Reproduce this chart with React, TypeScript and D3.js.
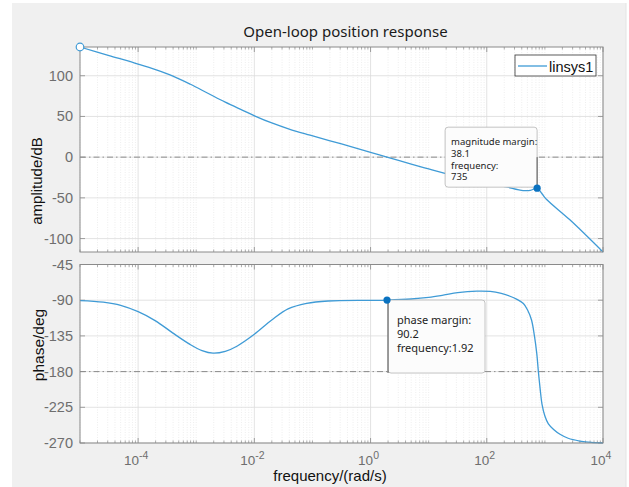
import React from 'react'
import * as d3 from 'd3'

const titleText = 'Open-loop position response'
const seriesName = 'linsys1'

// log10 of frequency (rad/s) and gain in dB
const magLogFreq = [-5, -4.5, -4, -3.7, -3.4, -3.1, -2.8, -2.5, -2.2, -1.988, -1.7, -1.4, -1.04, -0.5, 0, 0.283, 0.7, 1, 1.28, 1.5, 2, 2.34, 2.625, 2.75, 2.866, 2.95, 3.03, 3.43, 4]
const magDb = [135.3, 124.8, 114.3, 107.5, 99.5, 89.5, 78.5, 67.5, 57.5, 50.5, 42, 34.5, 27, 16.2, 6, 0, -8.5, -14.5, -20, -24, -31, -36.5, -41, -40.8, -38.1, -45, -52, -77, -116.5]

// log10 of frequency (rad/s) and phase in degrees
const phaseLogFreq = [-5, -4.6, -4.3, -4, -3.7, -3.4, -3.1, -2.9, -2.71, -2.5, -2.3, -2, -1.7, -1.42, -1.1, -0.73, 0, 0.283, 0.7, 1, 1.25, 1.5, 1.83, 2.06, 2.25, 2.4, 2.52, 2.63, 2.7, 2.77, 2.82, 2.86, 2.888, 2.92, 2.95, 3, 3.06, 3.15, 3.26, 3.4, 3.6, 3.8, 4]
const phaseDeg = [-90.5, -92.5, -96.5, -104.5, -116, -131.5, -146, -153.5, -156.8, -154.5, -148, -133, -115, -101, -94, -91, -90.2, -89.8, -88.5, -86.5, -83.7, -80.5, -78.6, -79, -81.5, -85, -89, -94.2, -102, -115, -135, -157, -180, -203, -221, -236, -246, -253, -259, -264, -267.5, -269.3, -269.8]

const magTicks = [-100, -50, 0, 50, 100]
const phaseTicks = [-270, -225, -180, -135, -90, -45]
const freqLabelExps = [-4, -2, 0, 2, 4]

const gainMargin = { freq: 735, db: -38.1, lines: ['magnitude margin:', '38.1', 'frequency:', '735'] }
const phaseMargin = { freq: 1.92, deg: -89.8, lines: ['phase margin:', '90.2', 'frequency:1.92'] }

const W = 629
const H = 487
const left = 80
const right = 603
const magTop = 47
const magBottom = 252
const phTop = 264.5
const phBottom = 443

const lineColor = '#3f9bd6'
const gridColor = '#dcdcdc'
const axisColor = '#8a8a8a'
const tickText = '#6e6e6e'
const sans = '"Liberation Sans", Arial, sans-serif'
const uiFont = '"Noto Sans", "Open Sans", sans-serif'

const App = () => {
  const x = d3.scaleLog().domain([1e-5, 1e4]).range([left, right])
  const yMag = d3.scaleLinear().domain(d3.extent(magDb) as [number, number]).range([magBottom, magTop])
  const yPh = d3.scaleLinear().domain([-270, -45]).range([phBottom, phTop])

  const magLine = d3
    .line<number>()
    .x((d, i) => x(Math.pow(10, magLogFreq[i])))
    .y((d) => yMag(d))
    .curve(d3.curveCatmullRom.alpha(0.5))
  const phLine = d3
    .line<number>()
    .x((d, i) => x(Math.pow(10, phaseLogFreq[i])))
    .y((d) => yPh(d))
    .curve(d3.curveCatmullRom.alpha(0.5))

  const minors: number[] = []
  for (let e = -5; e < 4; e++) for (let k = 1; k <= 9; k++) minors.push(k * Math.pow(10, e))
  const majors = freqLabelExps.map((e) => Math.pow(10, e))
  const minorOnly = minors.filter((f) => !freqLabelExps.some((e) => Math.abs(Math.log10(f) - e) < 1e-9))

  const axesFrame = (top: number, bottom: number, ticks: number[], y: (v: number) => number) => (
    <g>
      <rect x={left} y={top} width={right - left} height={bottom - top} fill="#fff" />
      {minorOnly.map((f, i) => (
        <line key={'mg' + i} x1={x(f)} x2={x(f)} y1={top} y2={bottom} stroke="#e2e2e2" strokeWidth={0.6} strokeDasharray="1,1.5" />
      ))}
      {majors.map((f, i) => (
        <line key={'Mg' + i} x1={x(f)} x2={x(f)} y1={top} y2={bottom} stroke={gridColor} strokeWidth={0.8} />
      ))}
      {ticks.map((t, i) => (
        <line key={'hg' + i} x1={left} x2={right} y1={y(t)} y2={y(t)} stroke={gridColor} strokeWidth={0.8} />
      ))}
      {minorOnly.map((f, i) => (
        <g key={'mt' + i}>
          <line x1={x(f)} x2={x(f)} y1={top} y2={top + 2.5} stroke={axisColor} strokeWidth={0.7} />
          <line x1={x(f)} x2={x(f)} y1={bottom} y2={bottom - 2.5} stroke={axisColor} strokeWidth={0.7} />
        </g>
      ))}
      {majors.map((f, i) => (
        <g key={'Mt' + i}>
          <line x1={x(f)} x2={x(f)} y1={top} y2={top + 5} stroke={axisColor} strokeWidth={0.8} />
          <line x1={x(f)} x2={x(f)} y1={bottom} y2={bottom - 5} stroke={axisColor} strokeWidth={0.8} />
        </g>
      ))}
      {ticks.map((t, i) => (
        <g key={'yt' + i}>
          <line x1={left} x2={left + 5} y1={y(t)} y2={y(t)} stroke={axisColor} strokeWidth={0.8} />
          <line x1={right} x2={right - 5} y1={y(t)} y2={y(t)} stroke={axisColor} strokeWidth={0.8} />
          <text x={left - 7} y={y(t) + 5} textAnchor="end" fontFamily={sans} fontSize={14.5} fill={tickText}>
            {t}
          </text>
        </g>
      ))}
    </g>
  )

  const gmX = x(gainMargin.freq)
  const gmY = yMag(gainMargin.db)
  const pmX = x(phaseMargin.freq)
  const pmY = yPh(phaseMargin.deg)

  return (
    <svg width={W} height={H} style={{ position: 'absolute', left: 0, top: 0 }}>
      <rect x={0} y={0} width={W} height={H} fill="#fff" />
      <rect x={12} y={3} width={614} height={484} fill="#f0f0f0" />
      <line x1={626} x2={626} y1={3} y2={487} stroke="#e4e4e4" />

      <text x={345.5} y={37} textAnchor="middle" fontFamily={uiFont} fontSize={15} fill="#1a1a1a">
        {titleText}
      </text>

      {axesFrame(magTop, magBottom, magTicks, yMag)}
      {axesFrame(phTop, phBottom, phaseTicks, yPh)}

      {/* reference lines */}
      <line x1={left} x2={right} y1={yMag(0)} y2={yMag(0)} stroke="#8c8c8c" strokeWidth={1} strokeDasharray="6,3,1.5,3" />
      <line x1={left} x2={right} y1={yPh(-180)} y2={yPh(-180)} stroke="#8c8c8c" strokeWidth={1} strokeDasharray="6,3,1.5,3" />

      <path d={magLine(magDb) || ''} fill="none" stroke={lineColor} strokeWidth={1.3} />
      <path d={phLine(phaseDeg) || ''} fill="none" stroke={lineColor} strokeWidth={1.3} />

      <rect x={left} y={magTop} width={right - left} height={magBottom - magTop} fill="none" stroke={axisColor} strokeWidth={1} />
      <rect x={left} y={phTop} width={right - left} height={phBottom - phTop} fill="none" stroke={axisColor} strokeWidth={1} />

      <circle cx={x(Math.pow(10, magLogFreq[0]))} cy={yMag(magDb[0])} r={3.8} fill="#fff" stroke={lineColor} strokeWidth={1.2} />

      {/* y labels */}
      <text transform="translate(42,181) rotate(-90)" textAnchor="middle" fontFamily={sans} fontSize={15} fill="#111">
        amplitude/dB
      </text>
      <text transform="translate(44,345) rotate(-90)" textAnchor="middle" fontFamily={sans} fontSize={15.5} fill="#111">
        phase/deg
      </text>

      {/* x tick labels */}
      {freqLabelExps.map((e, i) => (
        <text key={'xl' + i} x={x(Math.pow(10, e)) - 2} y={465} textAnchor="middle" fontFamily={sans} fontSize={13.5} fill={tickText}>
          10
          <tspan dy={-6} fontSize={10.5}>
            {e}
          </tspan>
        </text>
      ))}
      <text x={330} y={481} textAnchor="middle" fontFamily={sans} fontSize={15} fill="#111">
        frequency/(rad/s)
      </text>

      {/* legend */}
      <rect x={515} y={55} width={81} height={21} fill="#fff" stroke="#333" strokeWidth={0.8} />
      <line x1={518} x2={547} y1={66} y2={66} stroke={lineColor} strokeWidth={1.3} />
      <text x={549} y={71.5} fontFamily={sans} fontSize={14.5} fill="#111">
        {seriesName}
      </text>

      {/* gain margin data tip */}
      <rect x={gmX - 92} y={gmY - 61} width={92} height={60} rx={3} fill="#fcfcfc" stroke="#b4b4b4" strokeWidth={0.8} />
      <line x1={gmX} x2={gmX} y1={gmY - 31} y2={gmY} stroke="#555" strokeWidth={1} />
      {gainMargin.lines.map((t, i) => (
        <text key={'gm' + i} x={gmX - 86} y={gmY - 43 + i * 11.7} fontFamily={uiFont} fontSize={9.5} fill="#222">
          {t}
        </text>
      ))}
      <circle cx={gmX} cy={gmY} r={3.6} fill="#0a72c0" />

      {/* phase margin data tip */}
      <rect x={pmX + 1} y={pmY} width={97} height={73} rx={3} fill="#fcfcfc" stroke="#b4b4b4" strokeWidth={0.8} />
      <line x1={pmX + 1} x2={pmX + 1} y1={pmY} y2={pmY + 73} stroke="#555" strokeWidth={1} />
      {phaseMargin.lines.map((t, i) => (
        <text key={'pm' + i} x={pmX + 10} y={pmY + 24 + i * 14} fontFamily={uiFont} fontSize={11} fill="#222">
          {t}
        </text>
      ))}
      <circle cx={pmX} cy={pmY} r={3.6} fill="#0a72c0" />
    </svg>
  )
}

export default App
